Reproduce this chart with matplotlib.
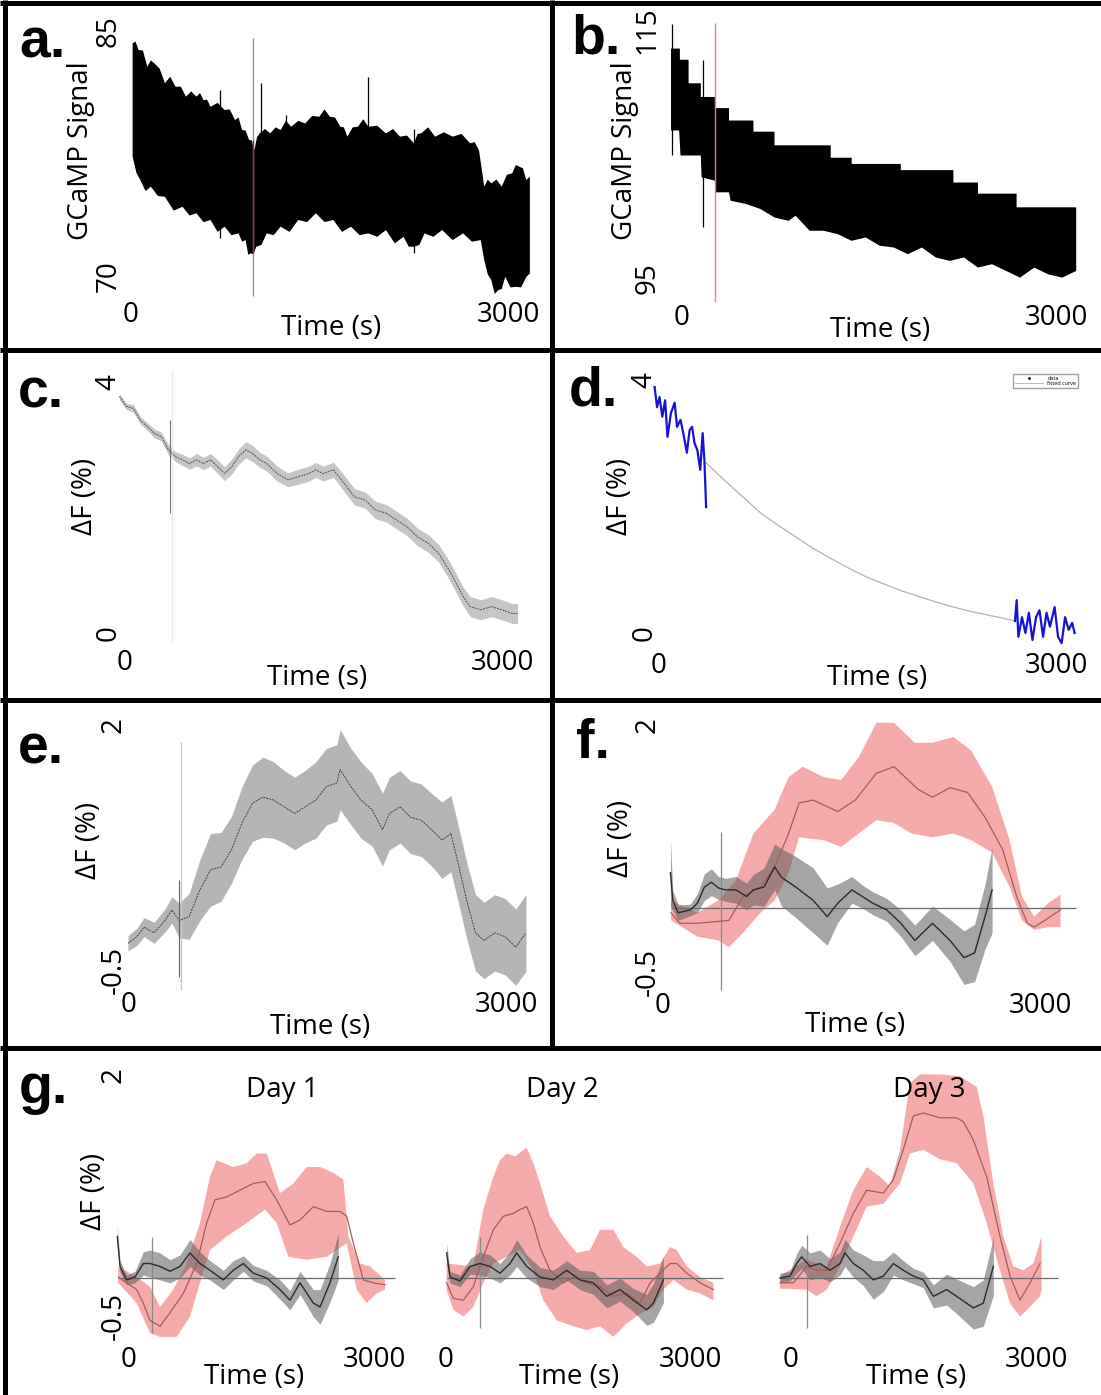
import numpy as np
import matplotlib
matplotlib.use('Agg')
import matplotlib.pyplot as plt
import matplotlib.transforms as mtransforms
from matplotlib.lines import Line2D

W, H, DPI = 1101, 1395, 100
plt.rcParams['font.family'] = ['Open Sans', 'DejaVu Sans']
FS = 20

# ---------------- data ----------------
# panel a: GCaMP raw signal envelope
A_UP_T = [13, 36, 60, 95, 130, 158, 186, 228, 270, 312, 354, 396, 437, 479, 521, 549, 577, 605, 633, 689, 745, 786,
          828, 856, 884, 912, 940, 961, 982, 1003, 1024, 1066, 1108, 1150, 1191, 1233, 1275, 1331, 1387, 1442, 1498,
          1540, 1582, 1624, 1666, 1694, 1722, 1764, 1806, 1848, 1889, 1959, 2029, 2085, 2141, 2196, 2252, 2280, 2308,
          2364, 2420, 2490, 2560, 2630, 2699, 2734, 2769, 2811, 2839, 2867, 2908, 2950, 2992, 3034, 3062, 3090, 3118,
          3146, 3174]
A_UP_V = [84.25, 84.35, 83.84, 83.8, 82.81, 83.2, 83.02, 82.7, 81.80, 82.2, 81.59, 81.6, 80.98, 81.3, 80.98, 81.2,
          80.77, 80.8, 80.36, 80.6, 80.16, 80.2, 79.55, 79.7, 78.94, 78.9, 78.33, 78.3, 77.71, 78.5, 78.73, 79.0,
          78.73, 79.1, 78.94, 79.5, 79.14, 79.5, 79.34, 79.8, 79.75, 80.2, 79.75, 79.7, 79.14, 79.1, 78.53, 79.1,
          79.14, 79.6, 79.14, 79.2, 78.73, 79.0, 78.53, 78.6, 78.12, 78.7, 78.73, 79.1, 78.53, 78.8, 78.53, 78.7,
          78.12, 78.2, 77.71, 75.47, 75.9, 75.67, 75.9, 75.47, 76.2, 76.29, 76.8, 76.69, 76.6, 75.88, 76.08]
A_LO_T = [13, 44, 74, 116, 158, 214, 270, 340, 410, 466, 521, 577, 633, 689, 745, 800, 856, 884, 912, 933, 954, 975,
          996, 1038, 1080, 1135, 1191, 1261, 1331, 1401, 1471, 1540, 1610, 1680, 1750, 1820, 1889, 1959, 2029, 2099,
          2169, 2210, 2252, 2294, 2336, 2406, 2476, 2560, 2643, 2713, 2783, 2811, 2839, 2867, 2895, 2923, 2950, 2978,
          3020, 3062, 3104, 3146, 3174]
A_LO_V = [77.30, 76.3, 75.88, 75.2, 75.47, 74.9, 74.85, 74.0, 74.24, 73.7, 73.84, 73.3, 73.43, 72.7, 73.02, 72.5,
          72.61, 72.1, 72.20, 71.3, 71.39, 71.3, 71.79, 71.9, 72.61, 72.5, 73.02, 72.7, 73.43, 73.3, 73.84, 73.3,
          73.43, 72.7, 73.02, 72.5, 72.61, 72.4, 72.81, 72.0, 72.40, 71.8, 71.79, 71.9, 72.61, 72.4, 72.81, 72.2,
          72.61, 72.1, 72.20, 70.98, 70.1, 69.75, 68.9, 69.14, 69.2, 69.95, 69.3, 69.34, 69.3, 69.95, 70.16]
A_SPIKE_T = [708, 1038, 1233, 1884, 2252]
A_SPIKE_LO = [72.3, 72.5, 74.0, 74.0, 71.4]
A_SPIKE_HI = [81.4, 81.8, 79.85, 82.2, 79.0]
A_STIM = (973, 68.8, 84.6)
A_STIM_RED = (973, 71.4, 78.3)

# panel b: GCaMP raw signal (stepped upper edge)
B_UP_T = [-88, -17, 53, 151, 264, 377, 573, 742, 1193, 1361, 1755, 2177, 2374, 2684, 3162]
B_UP_V = [113.5, 112.6, 110.7, 109.6, 108.7, 107.7, 106.8, 105.7, 104.7, 104.2, 103.7, 102.7, 101.8, 100.7]
B_LO_T = [-88, -23, -12, 151, 157, 264, 270, 377, 390, 517, 630, 742, 855, 911, 1024, 1136, 1249, 1361, 1474,
          1587, 1699, 1812, 1924, 2037, 2149, 2262, 2374, 2487, 2600, 2712, 2825, 2937, 3050, 3162]
B_LO_V = [106.90, 106.90, 104.88, 104.88, 103.12, 102.85, 101.91, 101.91, 101.23, 100.96, 100.56, 99.88, 99.61,
          100.02, 98.81, 98.81, 98.54, 98.00, 98.27, 97.60, 97.46, 96.92, 97.46, 96.65, 96.38, 96.65, 95.84, 96.11,
          95.57, 95.03, 95.84, 95.30, 95.03, 95.57]
B_SPIKE_T = [-79, 166]
B_SPIKE_LO = [104.9, 99.1]
B_SPIKE_HI = [115.5, 112.6]
B_STIM = (264, 93.1, 115.6)

# panel c: dF mean +/- sem
C_T = [-45, 11, 66, 122, 177, 233, 289, 345, 401, 456, 512, 568, 623, 679, 735, 790, 846, 902, 958, 1013,
       1069, 1125, 1208, 1292, 1375, 1459, 1515, 1570, 1654, 1737, 1821, 1904, 1988, 2072, 2155, 2239, 2322, 2406,
       2489, 2573, 2629, 2684, 2740, 2823, 2907, 2991, 3074, 3116]
C_M = [3.77, 3.61, 3.58, 3.39, 3.29, 3.18, 3.13, 2.92, 2.81, 2.76, 2.70, 2.76, 2.70, 2.76, 2.65, 2.54, 2.65, 2.81,
       2.92, 2.86, 2.76, 2.70, 2.54, 2.44, 2.49, 2.54, 2.60, 2.54, 2.60, 2.39, 2.17, 2.12, 1.96, 1.91, 1.80, 1.69,
       1.53, 1.43, 1.27, 1.00, 0.79, 0.58, 0.42, 0.37, 0.42, 0.37, 0.31, 0.31]
C_E = [0.05, 0.05, 0.06, 0.06, 0.06, 0.07, 0.07, 0.08, 0.08, 0.09, 0.09, 0.10, 0.10, 0.10, 0.11, 0.11, 0.12, 0.12,
       0.13, 0.13, 0.12, 0.12, 0.12, 0.11, 0.12, 0.12, 0.12, 0.12, 0.12, 0.13, 0.13, 0.13, 0.14, 0.14, 0.14, 0.14,
       0.14, 0.14, 0.14, 0.15, 0.15, 0.15, 0.16, 0.16, 0.16, 0.16, 0.16, 0.16]
C_SPIKE = (357, 1.91, 3.39)
C_STIM = (373, -0.16, 4.19)

# panel d: data segments and fitted curve
D1_T = [-33, -15, 4, 25, 46, 64, 90, 118, 136, 162, 183, 210, 231, 249, 268, 289, 311, 329, 342, 355]
D1_V = [3.89, 3.57, 3.73, 3.42, 3.68, 3.10, 3.48, 3.64, 3.26, 3.37, 3.16, 2.85, 3.21, 3.26, 3.00, 2.89, 2.58,
        3.16, 2.74, 1.99]
D_FIT_T = [355, 480, 607, 765, 900, 1030, 1160, 1294, 1425, 1559, 1690, 1823, 1955, 2088, 2220, 2352, 2510, 2668]
D_FIT_V = [2.69, 2.44, 2.20, 1.90, 1.70, 1.52, 1.34, 1.18, 1.03, 0.89, 0.78, 0.67, 0.58, 0.49, 0.41, 0.34, 0.27,
           0.20]
D2_T = [2683, 2696, 2709, 2736, 2762, 2788, 2815, 2842, 2868, 2895, 2921, 2947, 2982, 3008, 3035, 3061, 3088,
        3114, 3133]
D2_V = [0.19, 0.52, -0.06, 0.25, 0.0, 0.32, -0.11, 0.25, 0.36, -0.06, 0.32, 0.10, 0.41, -0.06, -0.16, 0.25,
        0.05, 0.16, 0.0]

# panel e: corrected dF mean +/- sem
E_T = [-8, 64, 119, 199, 287, 342, 398, 478, 565, 649, 732, 816, 899, 984, 1067, 1151, 1234, 1319, 1401, 1486,
       1570, 1655, 1680, 1766, 1846, 1934, 2017, 2073, 2157, 2240, 2324, 2408, 2491, 2562, 2631, 2687, 2757, 2825,
       2910, 2992, 3078, 3159]
E_M = [-0.37, -0.30, -0.20, -0.26, -0.13, -0.02, -0.13, -0.09, 0.19, 0.40, 0.43, 0.61, 0.89, 1.10, 1.16, 1.13,
       1.06, 0.99, 1.06, 1.13, 1.27, 1.31, 1.45, 1.27, 1.13, 1.03, 0.82, 0.99, 1.06, 0.95, 0.92, 0.82, 0.71, 0.78,
       0.40, 0.08, -0.26, -0.34, -0.26, -0.30, -0.41, -0.26]
E_E = [0.08, 0.09, 0.10, 0.11, 0.12, 0.14, 0.18, 0.24, 0.32, 0.38, 0.36, 0.35, 0.38, 0.40, 0.42, 0.40, 0.38, 0.38,
       0.38, 0.40, 0.40, 0.40, 0.42, 0.40, 0.40, 0.38, 0.38, 0.38, 0.38, 0.38, 0.38, 0.38, 0.40, 0.40, 0.40, 0.40,
       0.40, 0.40, 0.40, 0.40, 0.40, 0.40]
E_SPIKE = (398, -0.72, 0.29)
E_STIM = (414, -0.86, 1.74)

# panel f: treatment (pink) vs control (grey)
F_R_T = [64, 133, 273, 440, 523, 635, 774, 886, 997, 1080, 1192, 1387, 1526, 1693, 1833, 2027, 2139, 2278, 2417,
         2556, 2696, 2807, 2891, 2946, 3029, 3155]
F_R_M = [-0.05, -0.16, -0.16, -0.14, -0.13, 0.12, 0.22, 0.43, 0.78, 1.10, 1.13, 1.01, 1.13, 1.41, 1.48, 1.24,
         1.16, 1.26, 1.21, 0.95, 0.61, 0.12, -0.16, -0.20, -0.13, -0.02]
F_RU_T = [64, 273, 440, 579, 718, 886, 997, 1108, 1276, 1414, 1554, 1693, 1833, 1999, 2139, 2306, 2445, 2612, 2751,
          2849, 2946, 3057, 3155]
F_RU_V = [0.08, -0.05, 0.08, 0.29, 0.78, 1.03, 1.37, 1.48, 1.37, 1.34, 1.58, 1.94, 1.94, 1.73, 1.73, 1.79, 1.65,
          1.27, 0.71, 0.12, -0.09, 0.05, 0.14]
F_RL_T = [64, 273, 440, 523, 635, 774, 886, 997, 1080, 1276, 1414, 1554, 1693, 1833, 1972, 2139, 2306, 2445, 2612,
          2751, 2849, 2946, 3057, 3155]
F_RL_V = [-0.13, -0.30, -0.34, -0.41, -0.26, -0.05, 0.08, 0.37, 0.74, 0.71, 0.64, 0.78, 0.92, 0.89, 0.78, 0.74,
          0.78, 0.71, 0.58, 0.22, -0.13, -0.23, -0.20, -0.20]
F_G_T = [59, 78, 120, 217, 273, 329, 384, 440, 495, 579, 663, 718, 802, 886, 941, 1053, 1192, 1303, 1387, 1499,
         1582, 1665, 1776, 1888, 1999, 2139, 2278, 2389, 2473, 2556, 2612]
F_G_M = [0.37, 0.08, -0.05, -0.02, 0.05, 0.22, 0.27, 0.21, 0.19, 0.19, 0.12, 0.19, 0.22, 0.43, 0.32, 0.22, 0.08,
         -0.09, 0.05, 0.19, 0.12, 0.05, -0.02, -0.16, -0.34, -0.16, -0.34, -0.52, -0.47, -0.09, 0.19]
F_G_E = [0.35, 0.10, 0.08, 0.06, 0.10, 0.14, 0.14, 0.12, 0.12, 0.14, 0.14, 0.16, 0.20, 0.24, 0.30, 0.32, 0.34,
         0.30, 0.20, 0.14, 0.12, 0.12, 0.12, 0.14, 0.16, 0.18, 0.22, 0.28, 0.30, 0.34, 0.45]
F_HLINE = (63, 3278)
F_STIM = (460, -0.86, 0.80)

# panel g, day 1
G1_R_T = [-131, -29, 94, 175, 257, 380, 502, 665, 829, 951, 1053, 1196, 1359, 1522, 1665, 1808, 1971, 2094, 2257,
          2421, 2584, 2666, 2747, 2870, 2992, 3135]
G1_R_M = [0.01, -0.05, -0.12, -0.26, -0.44, -0.50, -0.36, -0.16, 0.15, 0.57, 0.81, 0.84, 0.91, 0.98, 1.00, 0.81,
          0.55, 0.60, 0.74, 0.69, 0.69, 0.64, 0.36, -0.02, -0.05, -0.07]
G1_RU_T = [-131, 94, 257, 380, 543, 706, 869, 992, 1073, 1277, 1441, 1563, 1686, 1849, 2012, 2176, 2339, 2502,
           2624, 2686, 2829, 2951, 3135]
G1_RU_V = [0.12, 0.01, -0.09, -0.30, -0.12, 0.15, 0.57, 1.05, 1.22, 1.15, 1.19, 1.29, 1.29, 0.88, 0.98, 1.15, 1.15,
           1.09, 1.02, 0.43, 0.15, 0.12, -0.02]
G1_RL_T = [-131, 94, 257, 380, 584, 747, 869, 992, 1196, 1441, 1665, 1808, 1951, 2176, 2421, 2666, 2788, 2910,
           3033, 3135]
G1_RL_V = [-0.05, -0.26, -0.57, -0.61, -0.61, -0.40, -0.05, 0.29, 0.43, 0.57, 0.71, 0.57, 0.22, 0.19, 0.22, 0.36,
           -0.12, -0.26, -0.16, -0.12]
G1_G_T = [-143, -110, -29, 73, 175, 257, 380, 502, 625, 747, 869, 992, 1155, 1277, 1400, 1522, 1686, 1849, 1971,
          2094, 2257, 2339, 2461, 2563]
G1_G_M = [0.43, 0.12, -0.02, 0.01, 0.15, 0.15, 0.12, 0.07, 0.12, 0.26, 0.15, 0.08, -0.02, 0.08, 0.15, 0.05, 0.00,
          -0.12, -0.23, -0.05, -0.26, -0.30, -0.05, 0.22]
G1_G_E = [0.10, 0.06, 0.05, 0.06, 0.12, 0.14, 0.14, 0.12, 0.12, 0.14, 0.12, 0.10, 0.10, 0.10, 0.08, 0.08, 0.08,
          0.10, 0.10, 0.12, 0.14, 0.18, 0.20, 0.24]
G1_HLINE = (-131, 3257)
G1_STIM = (278, -0.57, 0.43)

# panel g, day 2
G2_R_T = [8, 90, 213, 336, 459, 582, 705, 828, 910, 992, 1074, 1156, 1279, 1443, 1566, 1730, 1894, 2058, 2222,
          2386, 2509, 2632, 2755, 2837, 2960, 3124, 3288]
G2_R_M = [-0.05, -0.21, -0.23, -0.09, 0.22, 0.50, 0.64, 0.67, 0.71, 0.74, 0.57, 0.32, 0.08, -0.05, 0.01, -0.05,
          -0.09, -0.19, -0.16, -0.26, -0.05, 0.05, 0.15, 0.15, 0.05, -0.05, -0.12]
G2_RU_T = [8, 336, 459, 582, 664, 746, 849, 992, 1074, 1156, 1279, 1443, 1607, 1771, 1894, 2058, 2181, 2345, 2468,
           2632, 2755, 2837, 2960, 3124, 3288]
G2_RU_V = [0.15, 0.12, 0.71, 1.05, 1.22, 1.29, 1.26, 1.35, 1.19, 0.98, 0.64, 0.43, 0.26, 0.29, 0.50, 0.50, 0.32,
           0.22, 0.12, 0.15, 0.32, 0.29, 0.12, 0.01, -0.05]
G2_RL_T = [8, 90, 213, 336, 459, 582, 746, 910, 1074, 1197, 1361, 1566, 1730, 1894, 2058, 2222, 2386, 2550, 2673,
           2796, 2960, 3124, 3288]
G2_RL_V = [-0.12, -0.33, -0.40, -0.30, -0.05, 0.15, 0.22, 0.29, 0.08, -0.23, -0.44, -0.50, -0.54, -0.50, -0.61,
           -0.47, -0.37, -0.30, -0.12, -0.02, -0.12, -0.16, -0.23]
G2_G_T = [8, 49, 172, 295, 418, 541, 664, 787, 869, 992, 1156, 1320, 1484, 1648, 1812, 1976, 2140, 2304, 2468,
          2550, 2673]
G2_G_M = [0.26, 0.01, -0.03, 0.12, 0.15, 0.12, 0.05, 0.15, 0.26, 0.12, 0.01, -0.02, 0.08, -0.02, -0.05, -0.19,
          -0.12, -0.23, -0.33, -0.26, -0.02]
G2_G_E = [0.10, 0.06, 0.06, 0.08, 0.12, 0.12, 0.10, 0.12, 0.14, 0.12, 0.10, 0.10, 0.10, 0.10, 0.12, 0.12, 0.12,
          0.12, 0.16, 0.20, 0.24]
G2_HLINE = (8, 3410)
G2_STIM = (418, -0.52, 0.43)

# panel g, day 3
G3_R_T = [-135, 29, 192, 314, 437, 600, 763, 927, 1131, 1253, 1375, 1498, 1620, 1824, 2029, 2110, 2233, 2396,
          2559, 2682, 2804, 2927, 3049]
G3_R_M = [-0.05, -0.05, 0.12, 0.08, 0.08, 0.36, 0.67, 0.91, 0.88, 1.02, 1.33, 1.68, 1.71, 1.66, 1.66, 1.62, 1.43,
          1.05, 0.43, 0.02, -0.23, -0.05, 0.15]
G3_RU_T = [-135, 192, 437, 600, 763, 927, 1090, 1212, 1335, 1457, 1580, 1824, 2069, 2274, 2355, 2478, 2600, 2723,
           2845, 2968, 3069]
G3_RU_V = [0.02, 0.19, 0.12, 0.53, 0.91, 1.15, 1.05, 0.95, 1.33, 2.02, 2.11, 2.11, 2.09, 1.98, 1.68, 0.98, 0.43,
           0.12, 0.08, 0.15, 0.43]
G3_RL_T = [-135, 192, 314, 437, 600, 763, 927, 1131, 1335, 1457, 1620, 1824, 2029, 2233, 2396, 2559, 2682, 2804,
           2927, 3049, 3069]
G3_RL_V = [-0.11, -0.12, -0.19, -0.12, 0.12, 0.43, 0.74, 0.77, 0.98, 1.29, 1.33, 1.23, 1.19, 0.98, 0.57, 0.08,
           -0.26, -0.40, -0.30, -0.19, -0.12]
G3_G_T = [-135, -12, 69, 131, 233, 355, 478, 600, 661, 763, 886, 1008, 1131, 1253, 1375, 1498, 1620, 1743, 1906,
          2029, 2233, 2355, 2478]
G3_G_M = [0.0, 0.02, 0.15, 0.22, 0.12, 0.15, 0.08, 0.15, 0.26, 0.15, 0.08, -0.02, 0.02, 0.15, 0.08, 0.02, -0.02,
          -0.19, -0.12, -0.19, -0.31, -0.26, 0.12]
G3_G_E = [0.05, 0.05, 0.10, 0.12, 0.14, 0.14, 0.12, 0.12, 0.14, 0.14, 0.16, 0.20, 0.16, 0.12, 0.10, 0.08, 0.08,
          0.12, 0.16, 0.18, 0.22, 0.24, 0.30]
G3_HLINE = (-135, 3273)
G3_STIM = (192, -0.52, 0.45)

X_TICKS = [0, 3000]
X_TICKLABELS = ['0', '3000']
DAY_TITLES = ['Day 1', 'Day 2', 'Day 3']

# ---------------- figure ----------------
fig = plt.figure(figsize=(W / DPI, H / DPI), dpi=DPI)
fig.patch.set_facecolor('white')

PINK = '#f5abab'
PINK_LINE = '#a45c5c'
GREY_FILL = '#5c5c5c'
GREY_LINE = '#2b2b2b'


def make_ax(rect, x_ref, y_ref):
    px0, px1, py_top, py_bot = rect
    (xa, pxa), (xb, pxb) = x_ref
    sx = (pxb - pxa) / (xb - xa)
    (ya, pya), (yb, pyb) = y_ref
    sy = (pya - pyb) / (yb - ya)
    ax = fig.add_axes([px0 / W, 1 - py_bot / H, (px1 - px0) / W, (py_bot - py_top) / H])
    ax.set_xlim(xa + (px0 - pxa) / sx, xa + (px1 - pxa) / sx)
    ax.set_ylim(ya - (py_bot - pya) / sy, ya + (pya - py_top) / sy)
    for s in ax.spines.values():
        s.set_visible(False)
    ax.patch.set_alpha(0)
    ax._rect = rect
    return ax


def ticks(ax, x_cy, yticks=None, ylabels=None, y_right=None, yva='center', ydy=None):
    px0, px1, py_top, py_bot = ax._rect
    ax.set_xticks(X_TICKS)
    ax.set_xticklabels(X_TICKLABELS, fontsize=FS)
    ax.tick_params(axis='both', length=0)
    ax.tick_params(axis='x', pad=(x_cy - 11.3 - py_bot) * 0.72)
    if yticks is None:
        ax.set_yticks([])
    else:
        ax.set_yticks(yticks)
        ax.set_yticklabels(ylabels, fontsize=FS)
        ax.tick_params(axis='y', pad=(px0 - (y_right + 6.7)) * 0.72)
        labs = ax.get_yticklabels()
        for k, lab in enumerate(labs):
            lab.set_rotation(90)
            lab.set_va(yva)
            if ydy is not None and ydy[k] != 0:
                lab.set_transform(lab.get_transform() +
                                  mtransforms.ScaledTranslation(0, -ydy[k] / DPI, fig.dpi_scale_trans))


def xlabel(ax, cx, cy, text='Time (s)'):
    px0, px1, py_top, py_bot = ax._rect
    ax.set_xlabel(text, fontsize=FS)
    ax.xaxis.label.set_va('center')
    ax.xaxis.set_label_coords((cx - px0) / (px1 - px0), (py_bot - cy) / (py_bot - py_top))


def ylabel(ax, text, cx, cy):
    px0, px1, py_top, py_bot = ax._rect
    ax.set_ylabel(text, fontsize=FS)
    ax.yaxis.label.set_va('center')
    ax.yaxis.set_label_coords((cx - px0) / (px1 - px0), (py_bot - cy) / (py_bot - py_top))


def band(ax, tu, u, tl, l, **kw):
    ax.fill(np.concatenate([tu, tl[::-1]]), np.concatenate([u, l[::-1]]), lw=0, **kw)


def arr(*a):
    return [np.asarray(x, dtype=float) for x in a]


# ---- a ----
ax = make_ax((118, 548, 12, 298), ((0, 131), (3000, 508)), ((85, 31), (70, 276)))
t1, v1, t2, v2 = arr(A_UP_T, A_UP_V, A_LO_T, A_LO_V)
band(ax, t1, v1, t2, v2, color='black')
ax.vlines(A_SPIKE_T, A_SPIKE_LO, A_SPIKE_HI, color='black', lw=0.9)
ax.vlines(A_STIM[0], A_STIM[1], A_STIM[2], color='#8c8c8c', lw=0.9)
ax.vlines(A_STIM_RED[0], A_STIM_RED[1], A_STIM_RED[2], color='#a02838', lw=1.0)
ticks(ax, 312, [70, 85], ['70', '85'], 116)
xlabel(ax, 331, 328)
ylabel(ax, 'GCaMP Signal', 81, 151)

# ---- b ----
ax = make_ax((660, 1097, 12, 302), ((0, 682), (3000, 1056)), ((115, 30), (95, 278)))
bt, bv, lt, lv = arr(B_UP_T, B_UP_V, B_LO_T, B_LO_V)
step_t = np.repeat(bt, 2)[1:-1]
step_v = np.repeat(bv, 2)
band(ax, step_t, step_v, lt, lv, color='black')
ax.vlines(B_SPIKE_T, B_SPIKE_LO, B_SPIKE_HI, color='black', lw=0.9)
ax.vlines(B_STIM[0], B_STIM[1], B_STIM[2], color='#e07f98', lw=1.0)
ticks(ax, 315, [95, 115], ['95', '115'], 655)
xlabel(ax, 880, 330)
ylabel(ax, 'GCaMP Signal', 625, 151)

# ---- c ----
ax = make_ax((112, 548, 360, 646), ((0, 125), (3000, 503)), ((4, 382), (0, 633)))
t, m, e = arr(C_T, C_M, C_E)
ax.vlines(C_STIM[0], C_STIM[1], C_STIM[2], color='#ececec', lw=1.0)
ax.fill_between(t, m - e, m + e, color='#c6c6c6', lw=0)
ax.plot(t, m, color='#505050', lw=0.7, ls=(0, (2, 1)))
ax.vlines(C_SPIKE[0], C_SPIKE[1], C_SPIKE[2], color='#707070', lw=0.8)
ticks(ax, 660, [0, 4], ['0', '4'], 116)
xlabel(ax, 317, 678)
ylabel(ax, 'ΔF (%)', 85, 496)

# ---- d ----
ax = make_ax((648, 1097, 360, 646), ((0, 659), (3000, 1057)), ((4, 380), (0, 633)))
ax.plot(D_FIT_T, D_FIT_V, color='#c4b09c', lw=0.9)
ax.plot(D1_T, D1_V, color='#1414d2', lw=1.6)
ax.plot(D2_T, D2_V, color='#1414d2', lw=1.6)
h1 = Line2D([], [], color='black', marker='.', ls='none', markersize=2)
h2 = Line2D([], [], color='#c4b09c', lw=0.6)
ax.legend([h1, h2], ['data', 'fitted curve'], fontsize=4, loc='upper right',
          bbox_to_anchor=(1078 / W, 1 - 374 / H), bbox_transform=fig.transFigure, frameon=True,
          fancybox=False, edgecolor='#a0a0a0', borderpad=0.3, handlelength=5, labelspacing=0.1,
          framealpha=1, borderaxespad=0)
ticks(ax, 663, [0, 4], ['0', '4'], 652, ydy=[0, 0])
xlabel(ax, 877, 678)
ylabel(ax, 'ΔF (%)', 620, 496)

# ---- e ----
ax = make_ax((112, 548, 708, 995), ((0, 129), (3000, 506)), ((0, 908), (2, 717)))
t, m, e = arr(E_T, E_M, E_E)
ax.vlines(E_STIM[0], E_STIM[1], E_STIM[2], color='#c8c8c8', lw=1.0)
ax.fill_between(t, m - e, m + e, color='#b5b5b5', lw=0)
ax.plot(t, m, color='#404040', lw=0.7, ls=(0, (2, 1)))
ax.vlines(E_SPIKE[0], E_SPIKE[1], E_SPIKE[2], color='#606060', lw=0.8)
ticks(ax, 1002, [-0.5, 2], ['-0.5', '2'], 121, yva='top', ydy=[-10, 0])
xlabel(ax, 320, 1027)
ylabel(ax, 'ΔF (%)', 89, 840)


def treat_ctrl(ax, rt, rm, rut, ruv, rlt, rlv, gt, gm, ge, hline, stim):
    rut, ruv, rlt, rlv = arr(rut, ruv, rlt, rlv)
    band(ax, rut, ruv, rlt, rlv, color=PINK)
    gt, gm, ge = arr(gt, gm, ge)
    ax.fill_between(gt, gm - ge, gm + ge, color=GREY_FILL, alpha=0.55, lw=0)
    ax.hlines(0, hline[0], hline[1], color='#6a6a6a', lw=0.9)
    ax.vlines(stim[0], stim[1], stim[2], color='#8a8a8a', lw=0.9)
    ax.plot(rt, rm, color=PINK_LINE, lw=0.9)
    ax.plot(gt, gm, color=GREY_LINE, lw=1.0)


# ---- f ----
ax = make_ax((645, 1097, 708, 995), ((0, 663), (3000, 1041)), ((0, 908), (2, 717)))
treat_ctrl(ax, F_R_T, F_R_M, F_RU_T, F_RU_V, F_RL_T, F_RL_V, F_G_T, F_G_M, F_G_E, F_HLINE, F_STIM)
ticks(ax, 1003, [-0.5, 2], ['-0.5', '2'], 655, yva='top', ydy=[-8, 0])
xlabel(ax, 855, 1025)
ylabel(ax, 'ΔF (%)', 621, 838)

# ---- g ----
g_specs = [
    ((108, 400, 1060, 1342), ((0, 129), (3000, 374)),
     (G1_R_T, G1_R_M, G1_RU_T, G1_RU_V, G1_RL_T, G1_RL_V, G1_G_T, G1_G_M, G1_G_E, G1_HLINE, G1_STIM), 254, 282),
    ((435, 735, 1060, 1342), ((0, 446), (3000, 690)),
     (G2_R_T, G2_R_M, G2_RU_T, G2_RU_V, G2_RL_T, G2_RL_V, G2_G_T, G2_G_M, G2_G_E, G2_HLINE, G2_STIM), 569, 562),
    ((768, 1070, 1060, 1342), ((0, 791), (3000, 1036)),
     (G3_R_T, G3_R_M, G3_RU_T, G3_RU_V, G3_RL_T, G3_RL_V, G3_G_T, G3_G_M, G3_G_E, G3_HLINE, G3_STIM), 916, 929),
]
for i, (rect, xref, dat, xl_cx, title_cx) in enumerate(g_specs):
    ax = make_ax(rect, xref, ((0, 1278), (2, 1085)))
    treat_ctrl(ax, *dat)
    if i == 0:
        ticks(ax, 1357, [-0.5, 2], ['-0.5', '2'], 121, ydy=[-10, -10])
        ylabel(ax, 'ΔF (%)', 94, 1191)
    else:
        ticks(ax, 1357)
    xlabel(ax, xl_cx, 1377)
    fig.text(title_cx / W, 1 - 1090 / H, DAY_TITLES[i], fontsize=FS, ha='center', va='center')

# ---- panel letters ----
for lab, x, y in [('a.', 19, 57), ('b.', 571, 53), ('c.', 18, 408), ('d.', 569, 405),
                  ('e.', 18, 763), ('f.', 576, 758), ('g.', 19, 1103)]:
    fig.text(x / W, 1 - y / H, lab, fontsize=40, fontweight='bold', family='Liberation Sans',
             ha='left', va='baseline')

# ---- panel frame lines ----
LW = 3.6


def fline(x0, y0, x1, y1):
    fig.add_artist(Line2D([x0 / W, x1 / W], [1 - y0 / H, 1 - y1 / H], transform=fig.transFigure,
                          color='black', lw=LW, solid_capstyle='butt'))


fline(0, 3, W, 3)
fline(5, 0, 5, H)
fline(552, 0, 552, 1048)
fline(0, 350, W, 350)
fline(0, 700, W, 700)
fline(0, 1048, W, 1048)

fig.savefig('out.png', dpi=DPI, facecolor='white')
